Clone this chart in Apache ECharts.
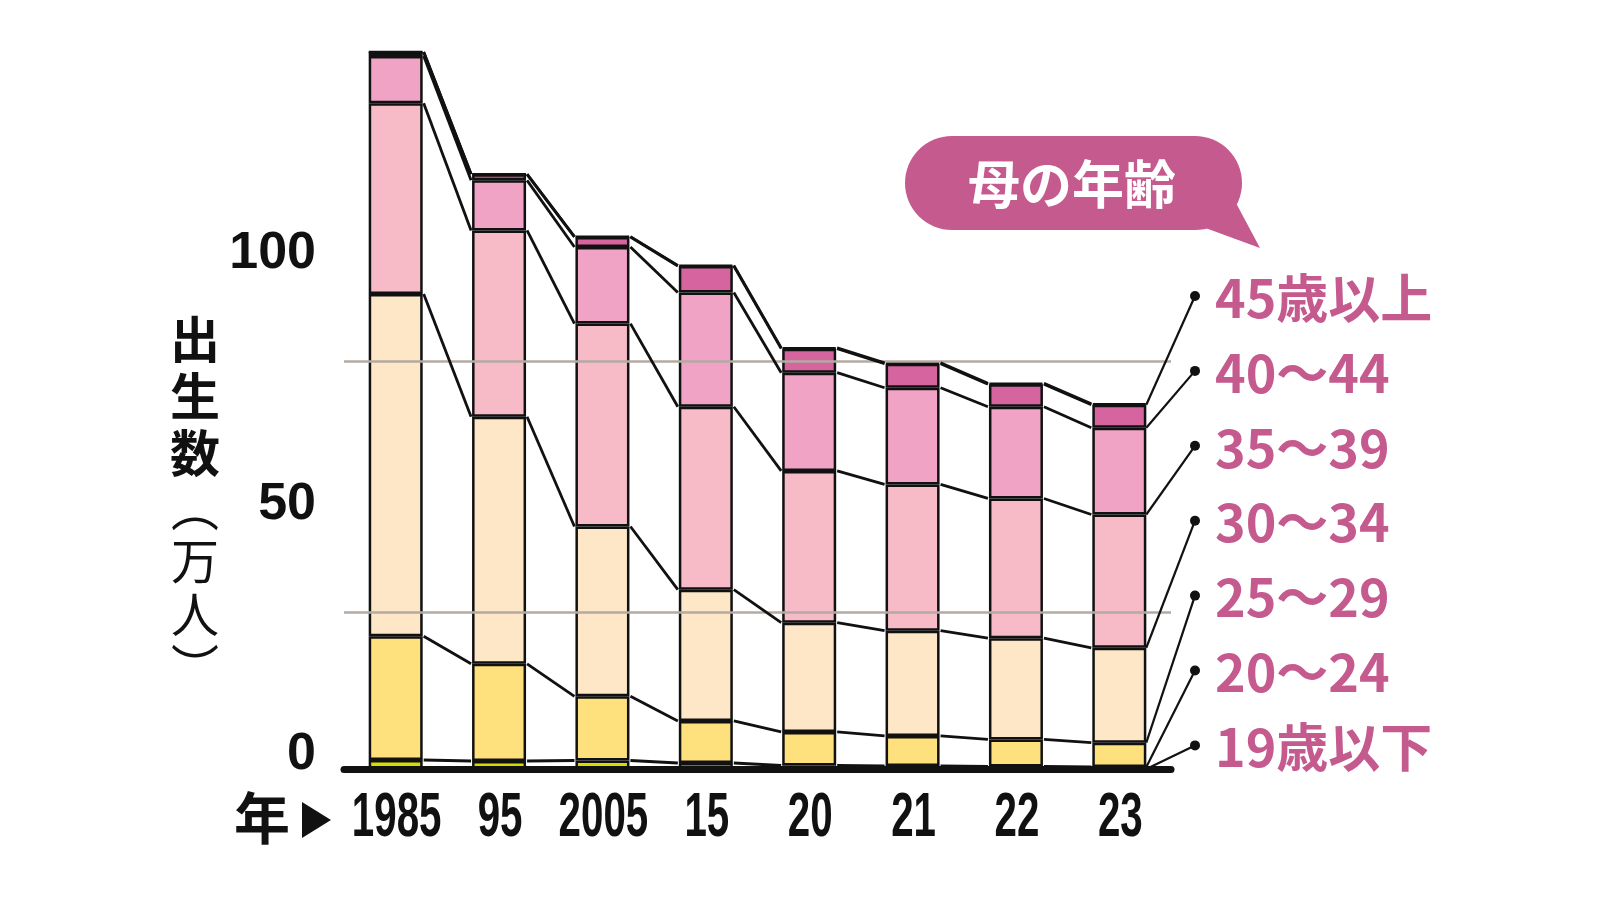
<!DOCTYPE html>
<html>
<head>
<meta charset="utf-8">
<script src="https://cdn.jsdelivr.net/npm/echarts@6/dist/echarts.min.js"></script>
<style>
html,body{margin:0;padding:0;background:#fff;}
#chart{width:1600px;height:900px;}
</style>
</head>
<body>
<div id="chart"></div>
<script>
// ---- data (万人) ----
const categories = ['1985', '95', '2005', '15', '20', '21', '22', '23'];
const seriesNames = ['19歳以下', '20～24', '25～29', '30～34', '35～39', '40～44', '45歳以上'];
const under19 = [1.8, 1.6, 1.7, 1.2, 0.7, 0.6, 0.5, 0.4];
const age20_24 = [24.7, 19.4, 12.8, 8.4, 6.7, 6.0, 5.4, 4.85];
const age25_29 = [68.3, 49.3, 33.9, 26.2, 21.8, 21.0, 20.2, 18.95];
const age30_34 = [38.1, 37.2, 40.5, 36.5, 30.3, 29.2, 27.9, 26.6];
const age35_39 = [9.4, 10.0, 15.3, 22.8, 19.6, 19.3, 18.3, 17.3];
const age40_44 = [0.8, 1.2, 2.0, 5.3, 4.8, 4.8, 4.5, 4.6];
const age45up = [0.02, 0.04, 0.06, 0.13, 0.16, 0.17, 0.18, 0.2];
const yTicks = [0, 50, 100];
const guideLines = [31.3, 81.4];

const seriesData = [under19, age20_24, age25_29, age30_34, age35_39, age40_44, age45up];
const colors = ['#d6dc00', '#fee17c', '#fde7c7', '#f6bbc7', '#f0a3c5', '#d6649f', '#c04a88'];
const pink = '#c45a8e';

// cumulative tops
const cum = [];
seriesData.forEach((arr, k) => {
  cum.push(arr.map((v, i) => (k === 0 ? 0 : cum[k - 1][i]) + v));
});

const BAR_W = 54;
const HALF = BAR_W / 2 + 1;

// connector data
const connData = [];
for (let k = 0; k < cum.length; k++) {
  for (let i = 0; i < categories.length - 1; i++) {
    connData.push([i, cum[k][i], cum[k][i + 1]]);
  }
}
// leader data (from last bar, bottom of each segment)
const last = categories.length - 1;
const leaderData = seriesNames.map((n, k) => [last, k === 0 ? 0 : cum[k - 1][last], k]);

const chart = echarts.init(document.getElementById('chart'));

const barSeries = seriesNames.map((name, k) => ({
  name: name,
  type: 'bar',
  stack: 'total',
  barWidth: BAR_W,
  z: 2,
  data: seriesData[k],
  itemStyle: { color: colors[k], borderColor: '#111', borderWidth: 2.5 }
}));

const option = {
  animation: false,
  backgroundColor: '#ffffff',
  grid: { left: 344, right: 429, top: 17.5, bottom: 131, containLabel: false },
  xAxis: {
    type: 'category',
    data: categories,
    z: 10,
    axisTick: { show: false },
    axisLabel: { show: false },
    axisLine: { lineStyle: { color: '#111', width: 7, cap: 'round' } }
  },
  yAxis: {
    type: 'value',
    min: 0,
    max: 150,
    interval: 50,
    splitLine: { show: false },
    axisLine: { show: false },
    axisTick: { show: false },
    axisLabel: {
      formatter: v => (yTicks.indexOf(v) >= 0 ? String(v) : ''),
      fontFamily: "'Liberation Sans Narrow', 'Liberation Sans', sans-serif",
      fontWeight: 'bold',
      fontSize: 52,
      color: '#111',
      margin: 28,
      verticalAlign: 'bottom',
      lineHeight: 28
    }
  },
  series: [
    {
      type: 'line',
      data: [],
      z: 1,
      silent: true,
      markLine: {
        silent: true,
        symbol: 'none',
        label: { show: false },
        lineStyle: { color: '#b3aaa3', width: 2.5, type: 'solid' },
        data: guideLines.map(v => ({ yAxis: v }))
      }
    },
    ...barSeries,
    {
      type: 'custom',
      name: 'connectors',
      z: 5,
      clip: false,
      silent: true,
      encode: { x: 0, y: [1, 2] },
      data: connData,
      renderItem: function (params, api) {
        const i = api.value(0);
        const p1 = api.coord([i, api.value(1)]);
        const p2 = api.coord([i + 1, api.value(2)]);
        return {
          type: 'line',
          shape: { x1: p1[0] + HALF, y1: p1[1], x2: p2[0] - HALF, y2: p2[1] },
          style: { stroke: '#111', lineWidth: 2.8 }
        };
      }
    },
    {
      type: 'custom',
      name: 'leaders',
      z: 6,
      clip: false,
      silent: true,
      encode: { x: 0, y: 1 },
      data: leaderData,
      renderItem: function (params, api) {
        const k = api.value(2);
        const row = seriesNames.length - 1 - k;
        const p = api.coord([api.value(0), api.value(1)]);
        const dotX = 1195, dotY = 296 + row * 74.9;
        return {
          type: 'group',
          children: [
            { type: 'line', shape: { x1: p[0] + HALF - 1, y1: p[1], x2: dotX, y2: dotY },
              style: { stroke: '#111', lineWidth: 2.2 } },
            { type: 'circle', shape: { cx: dotX, cy: dotY, r: 5 }, style: { fill: '#111' } },
            { type: 'text', x: 1215, y: dotY + 2,
              style: { text: seriesNames[k], fill: pink, fontSize: 52, fontWeight: 'bold',
                fontFamily: "'Liberation Sans Narrow', 'Noto Sans CJK JP', sans-serif",
                align: 'left', verticalAlign: 'middle' } }
          ]
        };
      }
    },
    {
      type: 'custom',
      name: 'xlabels',
      z: 6,
      clip: false,
      silent: true,
      encode: { x: 0, y: 1 },
      data: categories.map((c, i) => [i, 0]),
      renderItem: function (params, api) {
        const idx = api.value(0);
        const p = api.coord([idx, 0]);
        return {
          type: 'text',
          x: p[0] + 1,
          y: p[1] + 50,
          scaleX: 0.64,
          style: { text: categories[idx], fill: '#111', fontSize: 63, fontWeight: 'bold',
            fontFamily: "'Liberation Sans Narrow', 'Liberation Sans', sans-serif",
            align: 'center', verticalAlign: 'middle' }
        };
      }
    }
  ],
  graphic: [
    {
      type: 'text',
      x: 195, y: 502,
      style: {
        text: '{b|出}\n{b|生}\n{b|数}\n{r|︵}\n{r|万}\n{r|人}\n{r|︶}',
        align: 'center',
        verticalAlign: 'middle',
        fill: '#111',
        rich: {
          b: { fontSize: 50, fontWeight: 'bold', lineHeight: 57, fontFamily: "'Noto Sans CJK JP', sans-serif", fill: '#111' },
          r: { fontSize: 48, fontWeight: 'normal', lineHeight: 53, fontFamily: "'Noto Sans CJK JP', sans-serif", fill: '#111' }
        }
      }
    },
    {
      type: 'text', x: 262, y: 818,
      style: { text: '年', fontSize: 56, fontWeight: 'bold', fontFamily: "'Noto Sans CJK JP', sans-serif",
        fill: '#111', align: 'center', verticalAlign: 'middle' }
    },
    {
      type: 'polygon',
      shape: { points: [[302, 802], [331, 820], [302, 838]] },
      style: { fill: '#111' }
    },
    {
      type: 'group',
      children: [
        { type: 'polygon', shape: { points: [[1228, 188], [1260, 248], [1200, 226]] }, style: { fill: pink } },
        { type: 'rect', shape: { x: 905, y: 136, width: 337, height: 94, r: 47 }, style: { fill: pink } },
        { type: 'text', x: 1072, y: 184,
          style: { text: '母の年齢', fill: '#fff', fontSize: 52, fontWeight: 'bold',
            fontFamily: "'Noto Sans CJK JP', sans-serif", align: 'center', verticalAlign: 'middle' } }
      ]
    }
  ]
};

chart.setOption(option);
</script>
</body>
</html>
